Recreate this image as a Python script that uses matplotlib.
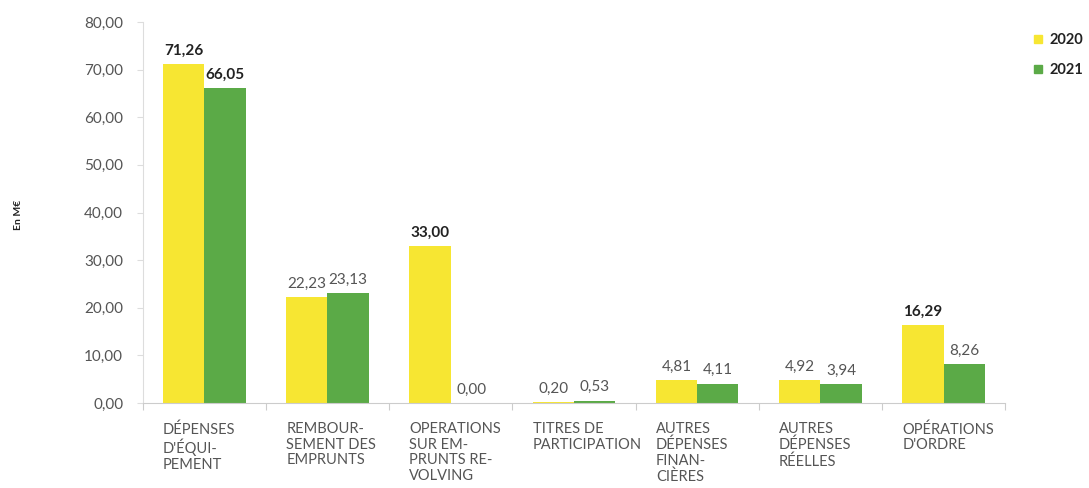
import matplotlib.pyplot as plt
import numpy as np
from matplotlib.lines import Line2D

plt.rcParams["font.family"] = ["Lato", "DejaVu Sans"]

categories = [
    "DÉPENSES\nD'ÉQUI-\nPEMENT",
    "REMBOUR-\nSEMENT DES\nEMPRUNTS",
    "OPERATIONS\nSUR EM-\nPRUNTS RE-\nVOLVING",
    "TITRES DE\nPARTICIPATION",
    "AUTRES\nDÉPENSES\nFINAN-\nCIÈRES",
    "AUTRES\nDÉPENSES\nRÉELLES",
    "OPÉRATIONS\nD'ORDRE",
]
values_2020 = [71.26, 22.23, 33.00, 0.20, 4.81, 4.92, 16.29]
values_2021 = [66.05, 23.13, 0.00, 0.53, 4.11, 3.94, 8.26]
bold_2020 = [True, False, True, False, False, False, True]
bold_2021 = [True, False, False, False, False, False, False]
y_ticks = [0, 10, 20, 30, 40, 50, 60, 70, 80]

YELLOW = "#F7E632"
GREEN = "#5BAA47"
GRAY = "#555555"
DARK = "#222222"


def fmt(v):
    return f"{v:.2f}".replace(".", ",")


fig = plt.figure(figsize=(10.89, 4.88), dpi=100)
ax = fig.add_axes([0.131, 0.174, 0.792, 0.781])

x = np.arange(len(categories))
w = 0.335
bars_a = ax.bar(x - w / 2, values_2020, w, color=YELLOW)
bars_b = ax.bar(x + w / 2, values_2021, w, color=GREEN)

for bars, vals, bolds in ((bars_a, values_2020, bold_2020), (bars_b, values_2021, bold_2021)):
    for bar, v, b in zip(bars, vals, bolds):
        ax.text(bar.get_x() + bar.get_width() / 2, v + 1.3, fmt(v),
                ha="center", va="bottom", fontsize=11,
                fontweight="bold" if b else "normal",
                color=DARK if b else GRAY)

ax.set_xlim(-0.5, len(categories) - 0.5)
ax.set_ylim(0, 80)
ax.set_yticks(y_ticks)
ax.set_yticklabels([fmt(t) for t in y_ticks], fontsize=11, color=GRAY)
ax.set_xticks(np.arange(len(categories) + 1) - 0.5)
ax.set_xticklabels([])
ax.tick_params(axis="x", length=5, color="#CCCCCC")
ax.tick_params(axis="y", length=4, color="#DDDDDD", pad=10)

for s in ("top", "right"):
    ax.spines[s].set_visible(False)
ax.spines["left"].set_color("#DDDDDD")
ax.spines["bottom"].set_color("#CCCCCC")

for i, lab in enumerate(categories):
    ax.text(i - w, -4.0, lab, ha="left", va="top", fontsize=10.5,
            color=GRAY, linespacing=1.15)

fig.text(0.017, 0.56, "En M€", rotation=90, ha="center", va="center",
         fontsize=7.5, fontweight="bold", color=DARK)

handles = [
    Line2D([], [], marker="s", linestyle="", color=YELLOW, markersize=6),
    Line2D([], [], marker="s", linestyle="", color=GREEN, markersize=6),
]
leg = fig.legend(handles, ["2020", "2021"], loc="upper left",
                 bbox_to_anchor=(0.936, 0.96), frameon=False, fontsize=10.5,
                 handlelength=0.8, handletextpad=0.4, labelspacing=1.1)
for t in leg.get_texts():
    t.set_color(DARK)
    t.set_fontweight("bold")

fig.savefig("out.png", dpi=100)
